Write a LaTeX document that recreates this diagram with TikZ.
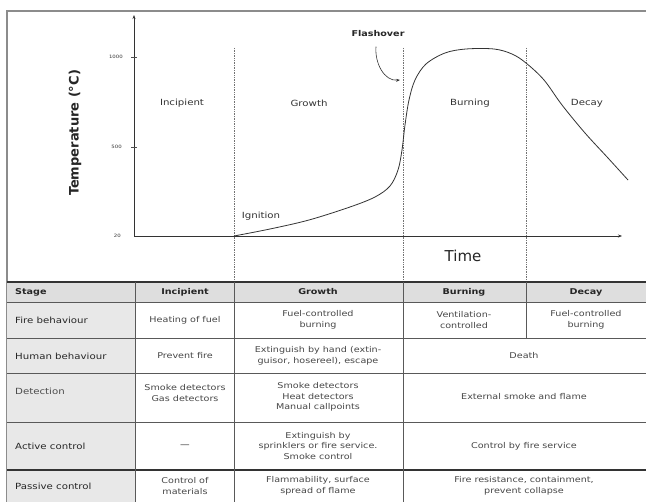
\documentclass[tikz,border=0pt]{standalone}
\usepackage{fontspec}
\setmainfont[FakeStretch=1.2]{DejaVu Sans}
\newfontfamily\plainfont{DejaVu Sans}
\usetikzlibrary{arrows.meta}
\begin{document}
\begin{tikzpicture}[x=1pt,y=-1pt,
  rule/.style={draw=black!65, line width=0.8pt},
  heavyrule/.style={draw=black!80, line width=1.3pt},
  stageline/.style={draw=black!55, densely dotted, line width=0.7pt},
  axis/.style={draw=black!80, line width=0.6pt, -{Stealth[length=4pt,width=3pt]}},
  cell/.style={align=center, font=\fontsize{8}{10.5}\selectfont, text=black!72, inner sep=0pt},
  lab/.style={anchor=west, font=\fontsize{8.5}{10}\selectfont, text=black!85, inner sep=0pt},
  hdr/.style={font=\bfseries\fontsize{8}{10}\selectfont, text=black!85, inner sep=0pt},
  stagelab/.style={font=\fontsize{8.5}{10}\selectfont, text=black!80, inner sep=0pt},
  ticklab/.style={font=\fontsize{4.5}{5}\selectfont, anchor=east, inner sep=0pt, text=black!80},
]
\useasboundingbox (0,0) rectangle (646,502);
\fill[white] (0,0) rectangle (646,502);
% outer frame
\draw[draw=black!45, line width=1.4pt] (7,502) -- (7,11) -- (646,11);
% ---------- chart ----------
\foreach \x in {234,403,526} \draw[stageline] (\x,48) -- (\x,282);
\coordinate (O) at (134,236);
\coordinate (ytop) at (134,15);
\coordinate (xend) at (622,236);
\draw[axis] (O) -- (ytop);
\draw[axis] (O) -- (xend);
\draw[draw=black!70, line width=0.5pt] (131,57) -- (137,57) (131,147) -- (137,147);
\node[ticklab] (t1000) at (123,57) {1000};
\node[ticklab] (t500) at (122,147) {500};
\node[ticklab] (t20) at (121,236) {20};
\node[rotate=90, font=\plainfont\bfseries\fontsize{13}{15}\selectfont, text=black!85] (ylab) at (75,133) {Temperature (°C)};
\node[font=\plainfont\fontsize{15}{17}\selectfont, text=black!85] (xlab) at (463,256) {Time};
\node[stagelab] (sInc) at (182,103) {Incipient};
\node[stagelab] (sGro) at (309,103) {Growth};
\node[stagelab] (sBur) at (470,103) {Burning};
\node[stagelab] (sDec) at (587,103) {Decay};
\node[stagelab] (ign) at (261,216) {Ignition};
\draw[black!80, line width=0.8pt] plot[smooth, tension=0.55] coordinates {
  (234,236) (270,229) (309,220) (350,207) (375,197) (390,186) (398,170)
  (402,150) (405,125) (409,100) (415,80) (426,64) (445,53) (466,49)
  (494,49) (512,54) (526,63) (544,80) (562,105) (585,133) (608,158) (628,180)};
\node[font=\bfseries\fontsize{8}{10}\selectfont, text=black!85] (flash) at (378,34) {Flashover};
\coordinate (fo) at (400,80);
\draw[black!80, line width=0.6pt, -{Stealth[length=4pt,width=3pt]}] (flash.south) ++(-2,6) to[out=-95,in=185] (fo);
% ---------- table ----------
\fill[black!13] (7,282) rectangle (646,302);
\fill[black!9] (7,302) rectangle (135,502);
\draw[rule] (7,302) -- (646,302) (7,338) -- (646,338) (7,373) -- (646,373) (7,422) -- (646,422);
\draw[heavyrule] (7,282) -- (646,282) (7,470) -- (646,470);
\draw[rule] (135,282) -- (135,502) (234,282) -- (234,502) (403,282) -- (403,502) (526,282) -- (526,338);
% header
\node[hdr, anchor=west] (hStage) at (15,292) {Stage};
\node[hdr] (hInc) at (185,292) {Incipient};
\node[hdr] (hGro) at (318,292) {Growth};
\node[hdr] (hBur) at (464,292) {Burning};
\node[hdr] (hDec) at (586,292) {Decay};
% row labels
\node[lab] (lFire) at (15,320) {Fire behaviour};
\node[lab] (lHum) at (15,356) {Human behaviour};
\node[lab, text=black!70] (lDet) at (15,391) {Detection};
\node[lab] (lAct) at (15,446) {Active control};
\node[lab] (lPas) at (15,486) {Passive control};
% fire behaviour
\node[cell] (c11) at (185,320) {Heating of fuel};
\node[cell] (c12) at (318,320) {Fuel-controlled\\burning};
\node[cell] (c13) at (464,320) {Ventilation-\\controlled};
\node[cell] (c14) at (586,320) {Fuel-controlled\\burning};
% human behaviour
\node[cell] (c21) at (185,356) {Prevent fire};
\node[cell] (c22) at (318,356) {Extinguish by hand (extin-\\guisor, hosereel), escape};
\node[cell] (c23) at (524,356) {Death};
% detection
\node[cell] (c31) at (185,393) {Smoke detectors\\Gas detectors};
\node[cell] (c32) at (318,397) {Smoke detectors\\Heat detectors\\Manual callpoints};
\node[cell] (c33) at (524,397) {External smoke and flame};
% active control
\node[cell, text=black!85] (c41) at (185,446) {---};
\node[cell] (c42) at (318,446) {Extinguish by\\sprinklers or fire service.\\Smoke control};
\node[cell] (c43) at (524,446) {Control by fire service};
% passive control
\node[cell] (c51) at (185,486) {Control of\\materials};
\node[cell] (c52) at (318,486) {Flammability, surface\\spread of flame};
\node[cell] (c53) at (524,486) {Fire resistance, containment,\\prevent collapse};
\end{tikzpicture}
\end{document}
